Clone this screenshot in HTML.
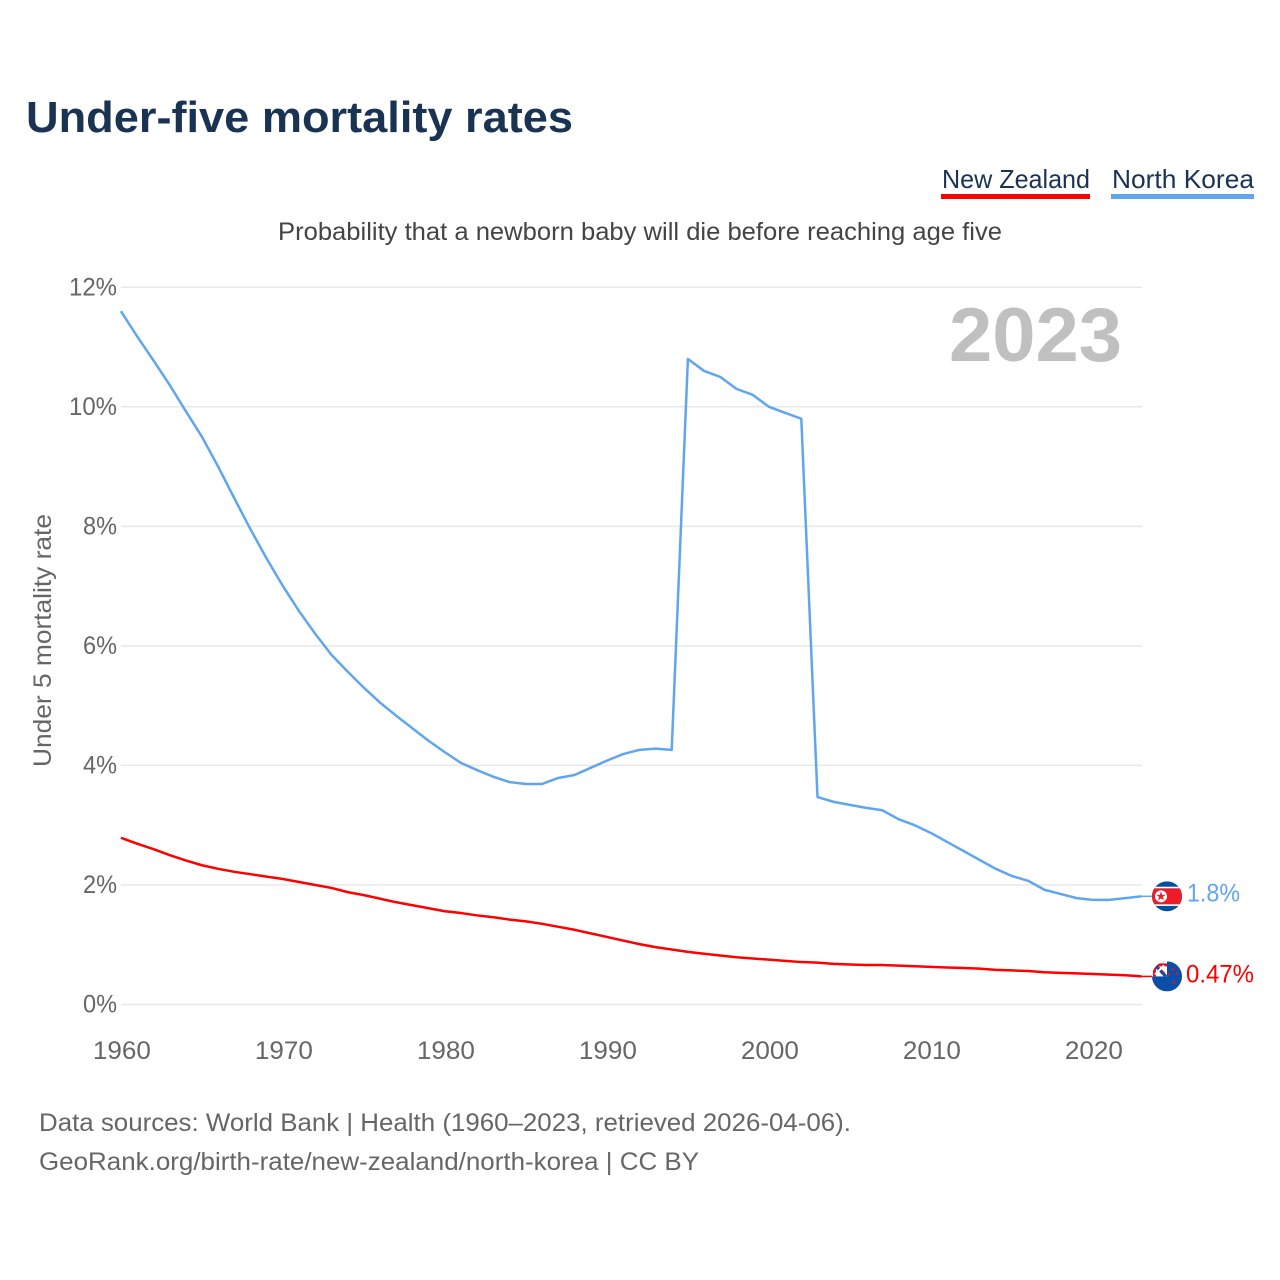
<!DOCTYPE html>
<html lang="en">
<head>
<meta charset="utf-8">
<title>Under-five mortality rates</title>
<style>
html,body{margin:0;padding:0;background:#fff;width:1280px;height:1280px;overflow:hidden}
svg{display:block;font-family:"Liberation Sans",sans-serif}
</style>
</head>
<body>
<svg id="chart" xmlns="http://www.w3.org/2000/svg" width="1280" height="1280" viewBox="0 0 1280 1280">
<defs>
<clipPath id="clip-nk"><circle cx="0" cy="0" r="15"/></clipPath>
<clipPath id="clip-nz"><circle cx="0" cy="0" r="15"/></clipPath>
</defs>
<rect width="1280" height="1280" fill="#fff"/>
<text x="26" y="132" font-size="44" font-weight="700" fill="#1a3353" textLength="547" lengthAdjust="spacingAndGlyphs">Under-five mortality rates</text>
<g>
<text x="942" y="188" font-size="26" fill="#1a3353" textLength="148" lengthAdjust="spacingAndGlyphs">New Zealand</text>
<rect x="941" y="194" width="149" height="5" fill="#ff0000"/>
</g>
<g>
<text x="1112" y="188" font-size="26" fill="#1a3353" textLength="142" lengthAdjust="spacingAndGlyphs">North Korea</text>
<rect x="1111" y="194" width="143" height="5" fill="#5fa6ee"/>
</g>
<text x="278" y="240" font-size="25" fill="#444" textLength="724" lengthAdjust="spacingAndGlyphs">Probability that a newborn baby will die before reaching age five</text>
<text x="949" y="361" font-size="76" font-weight="700" fill="#c0c0c0" textLength="173" lengthAdjust="spacingAndGlyphs">2023</text>
<text transform="translate(51,767) rotate(-90)" font-size="25" fill="#666" textLength="253" lengthAdjust="spacingAndGlyphs">Under 5 mortality rate</text>
<g id="grid"></g>
<g id="yticks"></g>
<g id="xticks"></g>
<g id="series"></g>
<g id="flag-nk">
<g clip-path="url(#clip-nk)">
<rect x="-15" y="-15" width="30" height="30" fill="#024fa2"/>
<rect x="-15" y="-8" width="30" height="16" fill="#ed1c27"/>
<rect x="-15" y="-9.6" width="30" height="1.6" fill="#fff"/>
<rect x="-15" y="8" width="30" height="1.6" fill="#fff"/>
<circle cx="-6" cy="0" r="6" fill="#fff"/>
<polygon points="-6,-4.8 -4.8,-1.5 -1.4,-1.5 -4.1,0.6 -3.1,4 -6,2 -8.9,4 -7.9,0.6 -10.6,-1.5 -7.2,-1.5" fill="#ed1c27"/>
</g>
</g>
<g id="flag-nz">
<g clip-path="url(#clip-nz)">
<rect x="-15" y="-15" width="30" height="30" fill="#0a4ea8"/>
<rect x="-15" y="-15" width="15" height="15" fill="#fff"/>
<rect x="-14" y="-13" width="14" height="3" fill="#d8132c"/>
<rect x="-14" y="-13" width="3" height="13" fill="#d8132c"/>
<path d="M-11,-10L-1,0" stroke="#0a4ea8" stroke-width="3"/>
<path d="M-9,-10L-2,-3" stroke="#d8132c" stroke-width="1.2"/>
<path d="M-12,-2L-3,-11" stroke="#fff" stroke-width="2"/>
<circle cx="6" cy="-7" r="1.3" fill="#d8132c"/>
<circle cx="2" cy="-2" r="1.3" fill="#d8132c"/>
<circle cx="10" cy="-3" r="1.3" fill="#d8132c"/>
<circle cx="7" cy="6" r="1.5" fill="#d8132c"/>
</g>
</g>
<text id="label-nk" font-size="25" fill="#5fa6ee" textLength="53" lengthAdjust="spacingAndGlyphs">1.8%</text>
<text id="label-nz" font-size="25" fill="#ff0000" textLength="68" lengthAdjust="spacingAndGlyphs">0.47%</text>
<text x="39" y="1131" font-size="25" fill="#666" textLength="812" lengthAdjust="spacingAndGlyphs">Data sources: World Bank | Health (1960–2023, retrieved 2026-04-06).</text>
<text x="39" y="1170" font-size="25" fill="#666" textLength="660" lengthAdjust="spacingAndGlyphs">GeoRank.org/birth-rate/new-zealand/north-korea | CC BY</text>
</svg>
<script>
const startYear = 1960;
const northKorea = [11.6,11.18,10.78,10.37,9.93,9.5,9.0,8.47,7.95,7.46,7.0,6.58,6.2,5.85,5.57,5.3,5.05,4.83,4.62,4.41,4.22,4.04,3.92,3.81,3.72,3.69,3.69,3.79,3.84,3.96,4.08,4.19,4.26,4.28,4.26,10.8,10.6,10.5,10.3,10.2,10.0,9.9,9.8,3.47,3.39,3.34,3.29,3.25,3.1,3.0,2.87,2.72,2.57,2.42,2.27,2.15,2.07,1.92,1.85,1.78,1.75,1.75,1.78,1.81];
const newZealand = [2.79,2.69,2.6,2.5,2.41,2.33,2.27,2.22,2.18,2.14,2.1,2.05,2.0,1.95,1.88,1.83,1.77,1.71,1.66,1.61,1.56,1.53,1.49,1.46,1.42,1.39,1.35,1.3,1.25,1.19,1.13,1.07,1.01,0.96,0.92,0.88,0.85,0.82,0.79,0.77,0.75,0.73,0.71,0.7,0.68,0.67,0.66,0.66,0.65,0.64,0.63,0.62,0.61,0.6,0.58,0.57,0.56,0.54,0.53,0.52,0.51,0.5,0.49,0.47];
const yTickValues = [0,2,4,6,8,10,12];
const yTickLabels = ["0%","2%","4%","6%","8%","10%","12%"];
const xTickYears = [1960,1970,1980,1990,2000,2010,2020];
const NS = "http://www.w3.org/2000/svg";
const xScale = function (year) { return 120.9 + (year - 1960) * 16.2; };
const yScale = function (v) { return 1004.5 - v * 59.77; };
function make(tag, attrs, parent, text) {
  const el = document.createElementNS(NS, tag);
  Object.keys(attrs).forEach(function (k) { el.setAttribute(k, attrs[k]); });
  if (text !== undefined) { el.textContent = text; }
  parent.appendChild(el);
  return el;
}
const grid = document.getElementById("grid");
const yticks = document.getElementById("yticks");
const xticks = document.getElementById("xticks");
const series = document.getElementById("series");
yTickValues.forEach(function (v, i) {
  const line = make("line", {x1: 121, x2: 1142, y1: yScale(v), y2: yScale(v), stroke: "#e8e8e8", "stroke-width": 1.5}, grid);
  
  
  const tickWidth = yTickLabels[i].length === 2 ? 34 : 48;
  const label = make("text", {x: 117, y: yScale(v) + 8, "font-size": 25, fill: "#666", "text-anchor": "end", textLength: tickWidth, lengthAdjust: "spacingAndGlyphs"}, yticks, yTickLabels[i]);
  
  
});
xTickYears.forEach(function (yr) {
  const label = make("text", {x: xScale(yr) + 1, y: 1059, "font-size": 25, fill: "#666", "text-anchor": "middle", textLength: 58, lengthAdjust: "spacingAndGlyphs"}, xticks, String(yr));
  
  
});
function drawSeries(values, color) {
  const pts = values.map(function (v, i) { return xScale(startYear + i).toFixed(2) + "," + yScale(v).toFixed(2); });
  const line = make("polyline", {points: pts.join(" "), fill: "none", stroke: color, "stroke-width": 2.5, "stroke-linejoin": "round"}, series);
  return line;
}
const nkLine = drawSeries(northKorea, "#5fa6ee");


const nzLine = drawSeries(newZealand, "#ff0000");


const lastYear = startYear + northKorea.length - 1;
const nkEnd = northKorea[northKorea.length - 1];
const nzEnd = newZealand[newZealand.length - 1];
const nkConn = make("line", {x1: xScale(lastYear), x2: 1152, y1: yScale(nkEnd), y2: yScale(nkEnd), stroke: "#5fa6ee", "stroke-width": 1.5}, series);


const nzConn = make("line", {x1: xScale(lastYear), x2: 1152, y1: yScale(nzEnd), y2: yScale(nzEnd), stroke: "#ff0000", "stroke-width": 1.5}, series);


document.getElementById("flag-nk").setAttribute("transform", "translate(1167," + yScale(nkEnd) + ")");
document.getElementById("flag-nz").setAttribute("transform", "translate(1167," + yScale(nzEnd) + ")");
const labelNk = document.getElementById("label-nk");
labelNk.setAttribute("x", 1187);
labelNk.setAttribute("y", yScale(nkEnd) + 5);
const labelNz = document.getElementById("label-nz");
labelNz.setAttribute("x", 1186);
labelNz.setAttribute("y", yScale(nzEnd) + 6);
</script>
</body>
</html>
